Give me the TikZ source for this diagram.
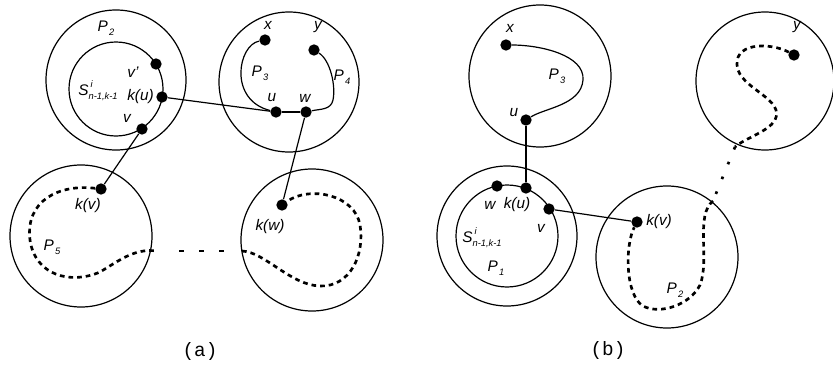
\documentclass[tikz,border=0pt]{standalone}
\usepackage{fontspec}
\setsansfont{Liberation Sans}
\setmonofont{Liberation Mono}
\usepackage{tikz}

\newcommand{\lsub}[2]{#1\kern1pt\raisebox{-0.5ex}{\fontsize{7}{8}\selectfont #2}}
\newcommand{\sset}{S\rlap{\raisebox{0.9ex}{\fontsize{7}{8}\selectfont\kern1.5pt i}}\raisebox{-0.55ex}{\fontsize{7}{8}\selectfont n-1,k-1}}

\tikzset{
  vdot/.style={circle,fill=black,inner sep=0pt,minimum size=8.5pt},
  lbl/.style={inner sep=0.75pt,font=\sffamily\itshape\fontsize{11.5}{13}\selectfont},
  captxt/.style={inner sep=0.75pt,font=\ttfamily\fontsize{14.5}{16}\selectfont},
  ring/.style={line width=0.9pt},
  thinpath/.style={line width=0.9pt},
  dashpath/.style={line width=2pt,dash pattern=on 3.5pt off 3pt},
  gappath/.style={line width=2pt,dash pattern=on 4pt off 11pt}
}

\begin{document}
\begin{tikzpicture}[x=0.75pt,y=0.75pt,yscale=-1,xscale=1]
\useasboundingbox (0,0) rectangle (833,371);

%%%%%%%%%%%%%%%% (a)
%Shape: Circle
\draw [ring] (116,80) circle [radius=70];
\draw [ring] (116,89) circle [radius=47];
\draw [ring] (289,82) circle [radius=70];
\draw [ring] (81,236) circle [radius=71];
\draw [ring] (312,240) circle [radius=71];

%Dots
\node [vdot] (avp) at (156,64) {};
\node [vdot] (aku) at (162,97) {};
\node [vdot] (av) at (142,129) {};
\node [vdot] (ax) at (265,40) {};
\node [vdot] (ay) at (314,50) {};
\node [vdot] (au) at (276,112) {};
\node [vdot] (aw) at (306,112) {};
\node [vdot] (akv) at (101,189) {};
\node [vdot] (akw) at (282,205) {};
\coordinate (aout) at (157,251);
\coordinate (agap1) at (179,251);
\coordinate (agap2) at (226,251);
\coordinate (ain) at (242,251);

%Curve Lines
\draw [thinpath] (ax) .. controls (238,45) and (228,100) .. (au);
\draw [thinpath] (ay) .. controls (330,60) and (336,85) .. (333,100) .. controls (331,110) and (320,109) .. (aw);
\draw [dashpath] (akv) .. controls (60,184) and (25,200) .. (30,240) .. controls (35,275) and (70,285) .. (100,272) .. controls (120,260) and (135,248) .. (aout);
\draw [gappath] (agap1) -- (agap2);
\draw [dashpath] (ain) .. controls (265,252) and (290,285) .. (320,286) .. controls (350,287) and (365,255) .. (360,225) .. controls (355,195) and (310,185) .. (akw);

%Straight Lines
\draw [thinpath] (aku) -- (au);
\draw [thinpath] (au) -- (aw);
\draw [thinpath] (av) -- (akv);
\draw [thinpath] (aw) -- (akw);

% Text Node
\node [lbl] (lap2) at (106,28) {\lsub{P}{2}};
\node [lbl] (lavp) at (133,72) {v'};
\node [lbl] (las) at (98,91) {\sset};
\node [lbl,anchor=east] (laku) at (155,97) {k(u)};
\node [lbl] (lav) at (127,118) {v};
\node [lbl] (lax) at (268,25) {x};
\node [lbl] (lay) at (318,27) {y};
\node [lbl] (lap3) at (260,73) {\lsub{P}{3}};
\node [lbl] (lap4) at (342,77) {\lsub{P}{4}};
\node [lbl] (lau) at (272,98) {u};
\node [lbl] (law) at (305,98) {w};
\node [lbl] (lakv) at (88,206) {k(v)};
\node [lbl] (lap5) at (52,247) {\lsub{P}{5}};
\node [lbl] (lakw) at (270,227) {k(w)};
\node [captxt] (capa) at (200,351) {(a)};

%%%%%%%%%%%%%%%% (b)
%Shape: Circle
\draw [ring] (540,76) circle [radius=71];
\draw [ring] (765,81) circle [radius=69];
\draw [ring] (507,236) circle [radius=70];
\draw [ring] (507,236) circle [radius=51];
\draw [ring] (667,257) circle [radius=71];

%Dots
\node [vdot] (bx) at (506,45) {};
\node [vdot] (bu) at (526,120) {};
\node [vdot] (by) at (794,55) {};
\node [vdot] (bw) at (497,186) {};
\node [vdot] (bku) at (526,188) {};
\node [vdot] (bv) at (549,209) {};
\node [vdot] (bkv) at (637,222) {};
\coordinate (bout) at (735,147);
\coordinate (bin) at (713,201);

%Curve Lines
\draw [thinpath] (bx) .. controls (540,45) and (585,55) .. (583,80) .. controls (581,105) and (545,108) .. (bu);
\draw [dashpath] (by) .. controls (770,42) and (730,42) .. (738,70) .. controls (745,90) and (785,100) .. (775,120) .. controls (768,132) and (745,138) .. (bout);
\draw [gappath,dash pattern=on 2pt off 10pt] (bout) -- (bin);
\draw [dashpath] (bin) .. controls (695,215) and (710,260) .. (700,285) .. controls (690,305) and (660,315) .. (643,306) .. controls (625,295) and (625,245) .. (bkv);

%Straight Lines
\draw [thinpath] (bu) -- (bku);
\draw [thinpath] (bv) -- (bkv);

% Text Node
\node [lbl] (lbx) at (510,28) {x};
\node [lbl] (lbu) at (514,113) {u};
\node [lbl] (lbp3) at (557,76) {\lsub{P}{3}};
\node [lbl] (lby) at (797,27) {y};
\node [lbl] (lbw) at (490,205) {w};
\node [lbl] (lbku) at (517,205) {k(u)};
\node [lbl] (lbv) at (541,228) {v};
\node [lbl] (lbs) at (482,238) {\sset};
\node [lbl] (lbp1) at (496,268) {\lsub{P}{1}};
\node [lbl,anchor=west] (lbkv) at (645,222) {k(v)};
\node [lbl] (lbp2) at (675,290) {\lsub{P}{2}};
\node [captxt] (capb) at (608,350) {(b)};

\end{tikzpicture}
\end{document}
